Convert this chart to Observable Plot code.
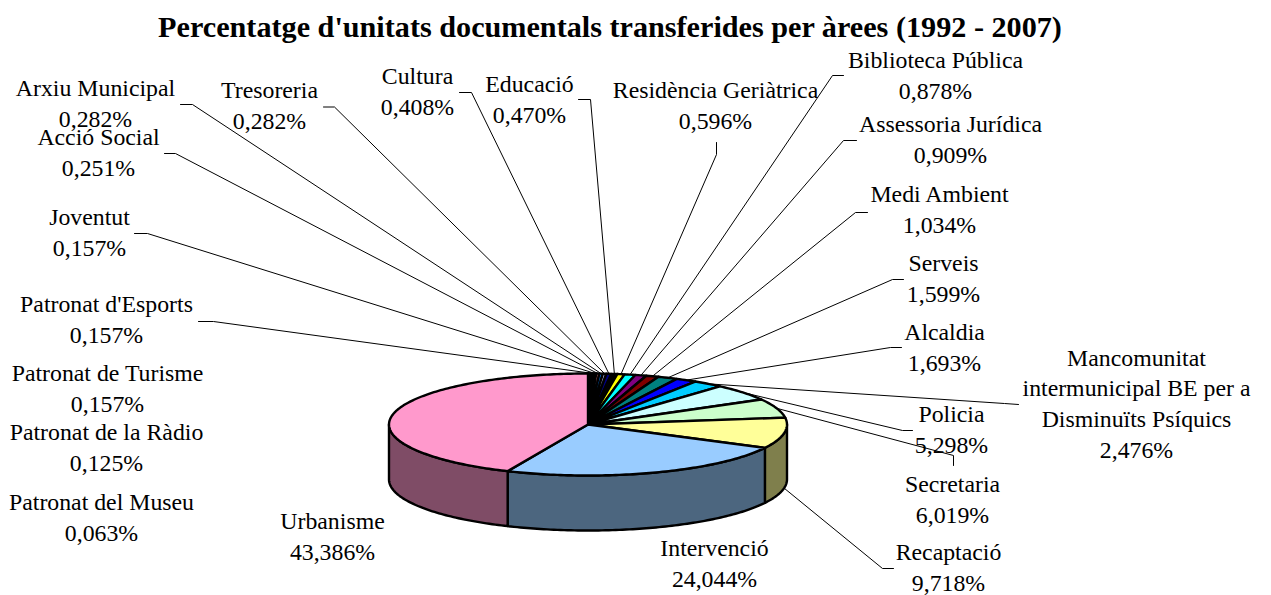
<!DOCTYPE html>
<html><head><meta charset="utf-8">
<script src="https://cdn.jsdelivr.net/npm/d3@7"></script>
<script src="https://cdn.jsdelivr.net/npm/@observablehq/plot@0.6"></script>
<style>
html,body{margin:0;padding:0;background:#fff;overflow:hidden}
#title{font:bold 30.2px "Liberation Serif",serif;color:#000;height:44px;line-height:54px;width:1220px;text-align:center;white-space:nowrap}
svg{display:block}
</style></head><body>
<div id="title">Percentatge d'unitats documentals transferides per àrees (1992 - 2007)</div>
<div id="chart"></div>
<script>
const categories = ["Patronat del Museu","Patronat de la Ràdio","Patronat de Turisme","Patronat d'Esports","Joventut","Acció Social","Arxiu Municipal","Tresoreria","Cultura","Educació","Residència Geriàtrica","Biblioteca Pública","Assessoria Jurídica","Medi Ambient","Serveis","Alcaldia","Mancomunitat\nintermunicipal BE per a\nDisminuïts Psíquics","Policia","Secretaria","Recaptació","Intervenció","Urbanisme"];
const values = [0.063,0.125,0.157,0.157,0.157,0.251,0.282,0.282,0.408,0.470,0.596,0.878,0.909,1.034,1.599,1.693,2.476,5.298,6.019,9.718,24.044,43.386];
const topColors = ["#9999FF","#993366","#FFFFCC","#CCFFFF","#660066","#FF8080","#0066CC","#CCCCFF","#000080","#000000","#FFFF00","#00FFFF","#800080","#800000","#008080","#0000FF","#00CCFF","#CCFFFF","#CCFFCC","#FFFF99","#99CCFF","#FF99CC"];
const wallColors = {"Recaptació":"#7F7F4C","Intervenció":"#4C667F","Urbanisme":"#7F4C66"};

// label layout (annotation placement, in page pixels)
const labelX = [102,107,108,107,90,99,96,270,418,530,716,936,951,940,944,945,1137,952,953,949,715,333];
const labelY = [518,448,389,320,233,153,104,106,92,99.5,105.5,75.5,140,210,279,347.5,404,430,500,568,564,537];
const leaderStart = [null,null,null,[198,321],[134,233],[164,153],[180,104],[323,106.5],[459,92],[578,99],[716,142],[843,75],[856,140],[867,212],[903,279],[901,347],[1018,404],[912,430],[953,465],[893,568],null,null];
const leaderElbow = [null,null,null,[213,321],[147,233],[175,153],[192,104],[334,106.5],[471,92],[590,99],[716,154],[832,75],[843,140],[855,212],[892,279],[890,347],[1004,403],[902,430],[953,455],[882,568],null,null];

// pie geometry
const cx = 587.5, cy = 424, rx = 199, ry = 51, depth = 55;
const total = d3.sum(values);
const px = a => cx + rx * Math.sin(a);
const py = a => cy - ry * Math.cos(a);
const arcPts = (a0, a1) => {
  const n = Math.max(2, Math.ceil((a1 - a0) / (Math.PI / 180)));
  return d3.range(n + 1).map(i => a0 + (a1 - a0) * i / n);
};
let cum = 0;
const slices = categories.map((name, i) => {
  const a0 = cum / total * 2 * Math.PI; cum += values[i];
  const a1 = cum / total * 2 * Math.PI;
  return {name, i, a0, a1, mid: (a0 + a1) / 2, color: topColors[i], wall: wallColors[name]};
});

const topPts = slices.flatMap(s => [
  {x: cx, y: cy, name: s.name, color: s.color},
  ...arcPts(s.a0, s.a1).map(a => ({x: px(a), y: py(a), name: s.name, color: s.color}))
]);
const wallPts = slices.filter(s => s.wall).flatMap(s => {
  const a0 = Math.max(s.a0, Math.PI / 2), a1 = Math.min(s.a1, 3 * Math.PI / 2);
  const arc = arcPts(a0, a1);
  return [
    ...arc.map(a => ({x: px(a), y: py(a), name: s.name, color: s.wall})),
    ...arc.slice().reverse().map(a => ({x: px(a), y: py(a) + depth, name: s.name, color: s.wall}))
  ];
});
const leaders = slices.filter(s => leaderStart[s.i]).flatMap(s => {
  const front = s.mid > Math.PI / 2 && s.mid < 3 * Math.PI / 2;
  return [
    {x: leaderStart[s.i][0], y: leaderStart[s.i][1], name: s.name},
    {x: leaderElbow[s.i][0], y: leaderElbow[s.i][1], name: s.name},
    {x: px(s.mid), y: py(s.mid) + (front ? depth : 0), name: s.name}
  ];
});
const labels = slices.map(s => ({
  x: labelX[s.i], y: labelY[s.i],
  text: s.name + "\n" + values[s.i].toFixed(3).replace(".", ",") + "%"
}));

const chart = Plot.plot({
  width: 1271, height: 551,
  marginTop: 0, marginRight: 0, marginBottom: 0, marginLeft: 0,
  x: {domain: [0, 1271], range: [0, 1271], axis: null},
  y: {domain: [44, 595], range: [0, 551], axis: null},
  color: {type: "identity"},
  marks: [
    Plot.line(leaders, {x: "x", y: "y", z: "name", stroke: "#000", strokeWidth: 1}),
    Plot.line(wallPts, {x: "x", y: "y", z: "name", fill: "color", stroke: "#000", strokeWidth: 2.4, curve: "linear-closed"}),
    Plot.line(topPts, {x: "x", y: "y", z: "name", fill: "color", stroke: "#000", strokeWidth: 2.4, curve: "linear-closed"}),
    Plot.text(labels, {x: "x", y: "y", text: "text", dx: -1, dy: -2.5, fontFamily: "Liberation Serif", fontSize: 23.8, lineHeight: 1.3, lineAnchor: "middle", textAnchor: "middle", fill: "#000"})
  ]
});
document.getElementById("chart").appendChild(chart);
</script>
</body></html>
